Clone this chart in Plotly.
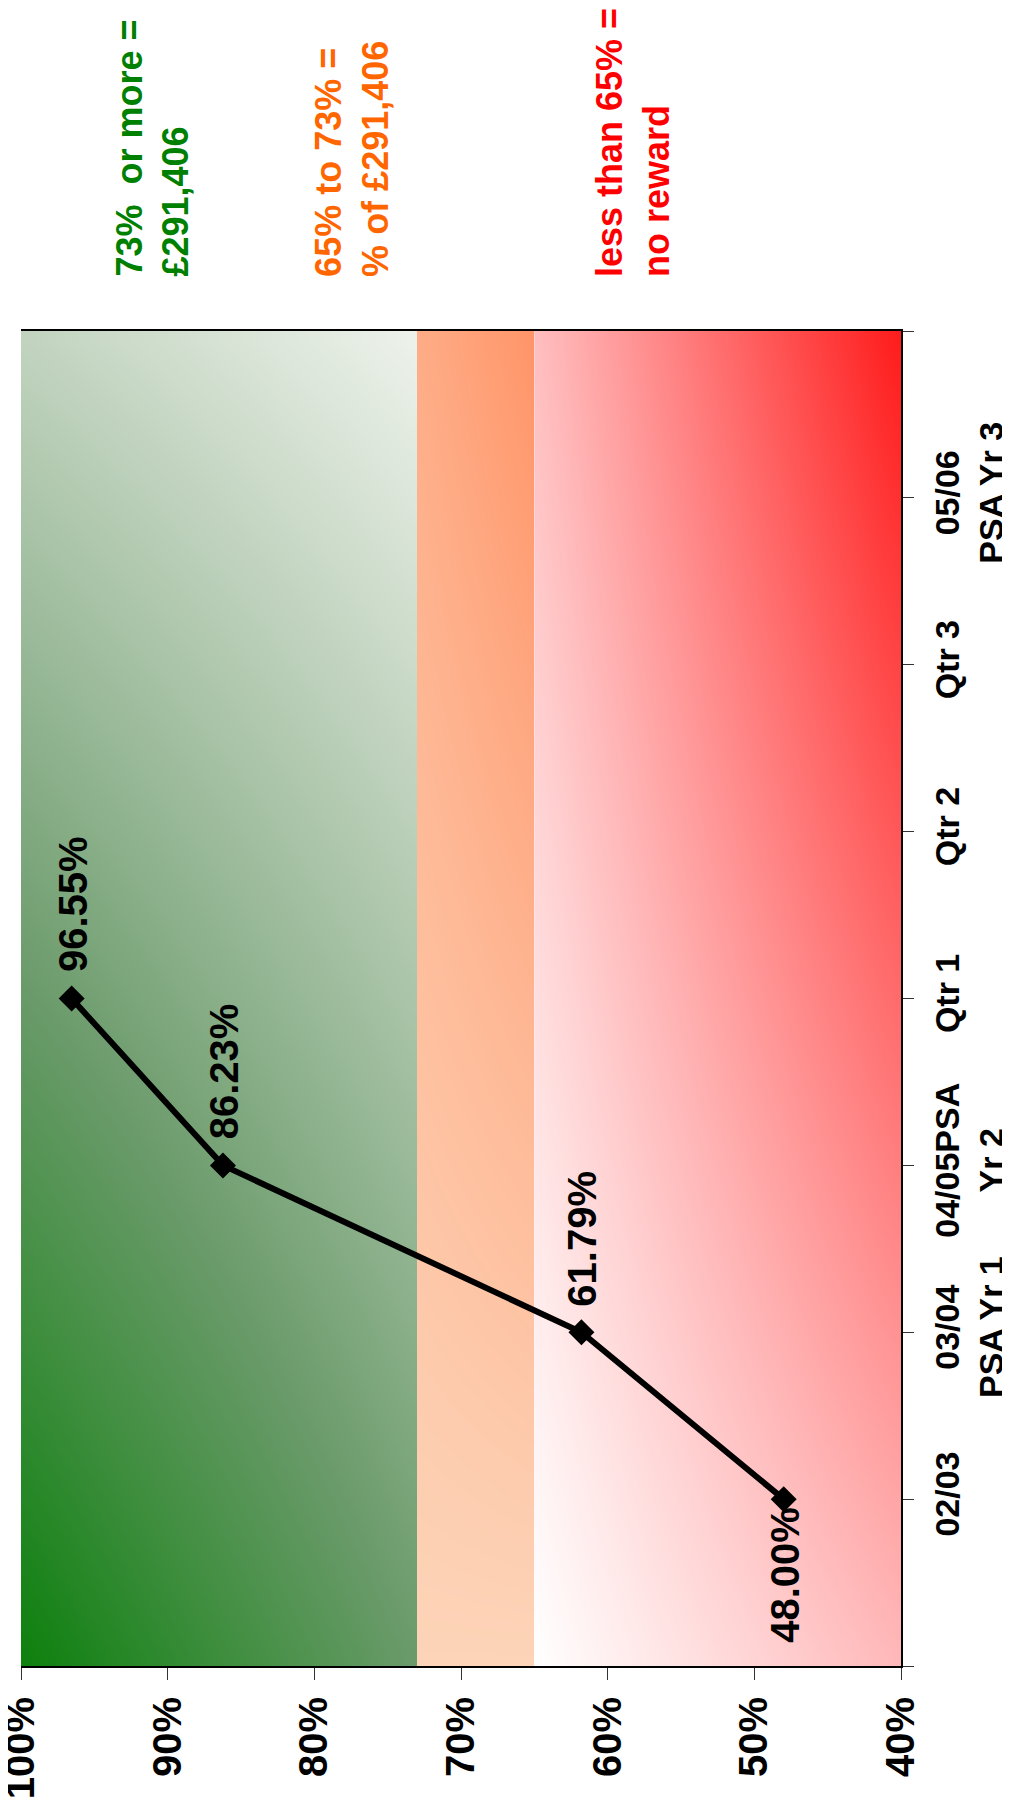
import numpy as np
import plotly.graph_objects as go

# ---------------- data ----------------
categories = ["02/03", "03/04<br>PSA Yr 1", "04/05PSA<br>Yr 2", "Qtr 1", "Qtr 2", "Qtr 3", "05/06<br>PSA Yr 3"]
performance = [48.00, 61.79, 86.23, 96.55, None, None, None]
label_below = [True, False, False, False, False, False, False]
pct_ticks = [100, 90, 80, 70, 60, 50, 40]
pct_labels = ["100%", "90%", "80%", "70%", "60%", "50%", "40%"]
low_threshold = 65
high_threshold = 73
band_texts = ["73%\u00a0\u00a0or more =<br>£291,406",
              "65% to 73% =<br>% of £291,406",
              "less than 65% =<br>no reward"]
band_text_colors = ["#008000", "#ff6600", "#ff0000"]

positions = list(range(1, len(categories) + 1))
y_lo, y_hi = 0, len(categories) + 1
FONT = "Liberation Sans, Arial, Helvetica, sans-serif"

# the page body adds an 8px offset; size the figure so it fits the window exactly
PAGE_OFFSET = 8
W, H = 1010 - PAGE_OFFSET, 1810 - PAGE_OFFSET

fig = go.Figure()


def band(lo, hi, fn, colorscale):
    nx, ny = 40, 80
    xe = np.linspace(lo, hi, nx + 1)
    ye = np.linspace(y_lo, y_hi, ny + 1)
    xc = (xe[:-1] + xe[1:]) / 2
    yc = (ye[:-1] + ye[1:]) / 2
    U, V = np.meshgrid((hi - xc) / (hi - lo), (yc - y_lo) / (y_hi - y_lo))
    Z = np.clip(fn(U, V), 0, 1)
    return go.Heatmap(x=xe, y=ye, z=Z, colorscale=colorscale, zmin=0, zmax=1,
                      zsmooth="best", showscale=False, hoverinfo="skip")


# green band (>= 73%)
fig.add_trace(band(high_threshold, pct_ticks[0],
                   lambda u, v: 0.41 * u + 0.80 * v - 0.22 * u * v,
                   [[0, "#0d800d"], [0.41, "#6a9a6a"], [0.8, "#c2d4c0"], [1, "#f0f4ee"]]))
# orange band (65%-73%)
fig.add_trace(band(low_threshold, high_threshold,
                   lambda u, v: v * (0.62 + 0.38 * u),
                   [[0, "#fdd4b8"], [1, "#ff9468"]]))
# red band (< 65%)
fig.add_trace(band(pct_ticks[-1], low_threshold,
                   lambda u, v: 0.3 * u + 0.27 * v + 0.4 * u * v,
                   [[0, "#ffffff"], [0.27, "#ffbfc0"], [1, "#ff1414"]]))

# performance line
fig.add_trace(go.Scatter(
    x=performance, y=positions, mode="lines+markers",
    line=dict(color="black", width=6),
    marker=dict(symbol="diamond", size=20, color="black"),
    hoverinfo="skip", showlegend=False))

# data labels
for val, pos, below in zip(performance, positions, label_below):
    if val is None:
        continue
    fig.add_annotation(
        x=val, y=pos, xref="x", yref="y", text=f"{val:.2f}%", showarrow=False,
        textangle=-90, xanchor="center", yanchor="top" if below else "bottom",
        yshift=-6 if below else 24, xshift=1,
        font=dict(family=FONT, size=40, color="black", weight="bold"))

# band legend texts
for txt, col, xp in zip(band_texts, band_text_colors, [0.149, 0.376, 0.695]):
    fig.add_annotation(
        x=xp, y=1 + (331 - 279) / 1335, xref="paper", yref="paper", text=txt,
        showarrow=False, textangle=-90, align="left",
        xanchor="center", yanchor="bottom",
        font=dict(family=FONT, size=36, color=col, weight="bold"))

fig.update_layout(
    width=W, height=H,
    margin=dict(l=21 - PAGE_OFFSET, r=109, t=331 - PAGE_OFFSET, b=144, autoexpand=False),
    paper_bgcolor="white", plot_bgcolor="white",
    showlegend=False,
    xaxis=dict(range=[pct_ticks[0], pct_ticks[-1]], tickvals=pct_ticks, ticktext=pct_labels,
               tickangle=-90, ticks="outside", ticklen=12, tickcolor="#333333", tickwidth=1,
               showline=True, linecolor="black", linewidth=2, mirror=True,
               showgrid=False, zeroline=False, automargin=False,
               ticklabeloverflow="allow", ticklabelstandoff=1,
               tickfont=dict(family=FONT, size=40, color="black", weight="bold")),
    yaxis=dict(range=[y_lo, y_hi], side="right",
               tickvals=list(range(y_lo, y_hi + 1)), ticktext=[""] + categories + [""],
               tickangle=-90, ticks="outside", ticklen=11, tickcolor="#333333", tickwidth=1,
               showline=True, linecolor="black", linewidth=2,
               showgrid=False, zeroline=False, automargin=False,
               ticklabeloverflow="allow", ticklabelstandoff=4,
               tickfont=dict(family=FONT, size=34, color="black", weight="bold")),
)

fig.write_html("out.html")
